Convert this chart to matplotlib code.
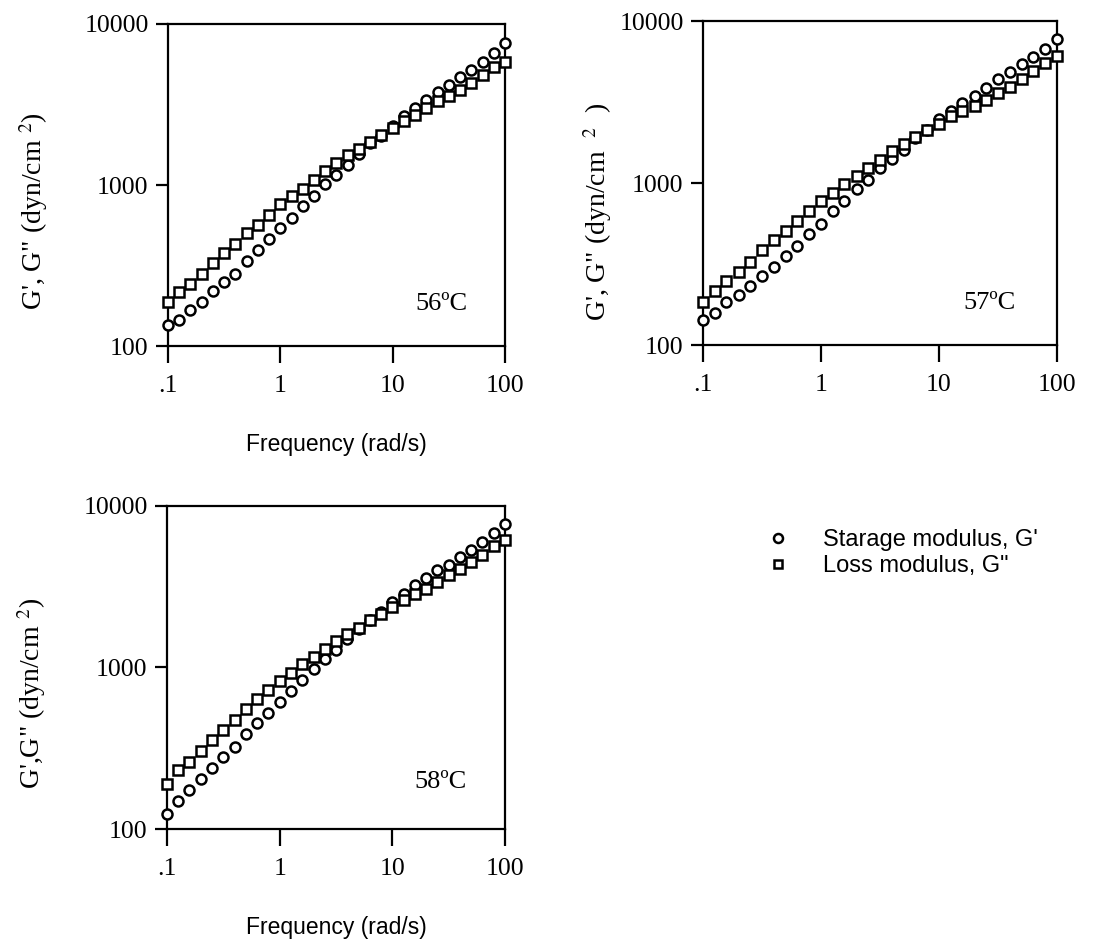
import matplotlib
matplotlib.use("Agg")
import matplotlib.pyplot as plt
from matplotlib.ticker import FixedLocator, FixedFormatter, NullLocator

plt.rcParams["font.family"] = ["Liberation Serif", "DejaVu Serif"]
plt.rcParams["mathtext.fontset"] = "stix"

# frequency (rad/s), 10 points per decade
freq = [0.1, 0.126, 0.158, 0.2, 0.251, 0.316, 0.398, 0.501, 0.631, 0.794,
        1.0, 1.26, 1.58, 2.0, 2.51, 3.16, 3.98, 5.01, 6.31, 7.94,
        10.0, 12.6, 15.8, 20.0, 25.1, 31.6, 39.8, 50.1, 63.1, 79.4, 100.0]

# storage modulus G' (circles) and loss modulus G" (squares), dyn/cm2
g1_56 = [136, 146, 167, 188, 219, 251, 282, 335, 394, 462, 538, 624, 745, 859,
         1014, 1159, 1337, 1556, 1820, 2023, 2312, 2667, 2999, 3381, 3802,
         4169, 4667, 5188, 5848, 6577, 7586]
g2_56 = [188, 216, 244, 282, 329, 379, 431, 504, 568, 655, 762, 851, 948, 1079,
         1216, 1368, 1542, 1671, 1862, 2051, 2254, 2483, 2729, 2999, 3304,
         3548, 3890, 4285, 4831, 5445, 5848]
g1_57 = [143, 158, 183, 204, 230, 265, 305, 356, 406, 486, 560, 668, 776, 912,
         1047, 1242, 1413, 1607, 1897, 2138, 2466, 2773, 3126, 3467, 3873,
         4355, 4831, 5395, 6026, 6745, 7762]
g2_57 = [185, 216, 247, 284, 327, 387, 446, 509, 579, 668, 771, 867, 986, 1109,
         1239, 1393, 1570, 1750, 1928, 2109, 2328, 2582, 2773, 3006, 3273,
         3606, 3926, 4416, 4909, 5521, 6081]
g1_58 = [123, 149, 174, 204, 240, 280, 323, 385, 451, 525, 614, 714, 836, 977,
         1122, 1291, 1496, 1742, 1982, 2208, 2547, 2844, 3228, 3589, 3999,
         4335, 4831, 5370, 5984, 6808, 7780]
g2_58 = [191, 232, 261, 305, 356, 409, 472, 550, 634, 724, 828, 927, 1047, 1161,
         1309, 1452, 1622, 1766, 1963, 2158, 2371, 2606, 2871, 3083, 3388,
         3724, 4093, 4508, 4955, 5636, 6138]

x_ticks = [0.1, 1, 10, 100]
x_ticklabels = [".1", "1", "10", "100"]
y_ticks = [100, 1000, 10000]
y_ticklabels = ["100", "1000", "10000"]

SANS = ["Liberation Sans Narrow", "Liberation Sans", "DejaVu Sans"]

fig = plt.figure(figsize=(10.97, 9.47), dpi=100)

panels = [
    # rect, G', G", temperature, ylabel, ylabel x/y (fig px), temp pos
    ([168 / 1097, 1 - 346 / 947, 337 / 1097, 322 / 947], g1_56, g2_56,
     "56ºC", "G', G\" (dyn/cm $^{2}$)", (34, 211), (0.81, 0.13), True),
    ([703 / 1097, 1 - 345 / 947, 354 / 1097, 324 / 947], g1_57, g2_57,
     "57ºC", "G', G\" (dyn/cm  $^{2}$  )", (598, 212), (0.81, 0.13), False),
    ([167 / 1097, 1 - 829 / 947, 338 / 1097, 323 / 947], g1_58, g2_58,
     "58ºC", "G',G\" (dyn/cm $^{2}$)", (32, 693), (0.81, 0.145), True),
]

for rect, g1, g2, temp, ylab, (lx, ly), tpos, xlab in panels:
    ax = fig.add_axes(rect)
    ax.set_xscale("log")
    ax.set_yscale("log")
    h1, = ax.plot(freq, g1, "o", ms=7.2, mfc="white", mec="black", mew=1.8,
                  clip_on=False, zorder=3)
    h2, = ax.plot(freq, g2, "s", ms=7.0, mfc="white", mec="black", mew=1.8,
                  clip_on=False, zorder=3)
    ax.set_xlim(0.1, 100)
    ax.set_ylim(100, 10000)
    ax.xaxis.set_major_locator(FixedLocator(x_ticks))
    ax.xaxis.set_major_formatter(FixedFormatter(x_ticklabels))
    ax.yaxis.set_major_locator(FixedLocator(y_ticks))
    ax.yaxis.set_major_formatter(FixedFormatter(y_ticklabels))
    ax.xaxis.set_minor_locator(NullLocator())
    ax.yaxis.set_minor_locator(NullLocator())
    ax.tick_params(axis="x", direction="out", length=12, width=1.6,
                   labelsize=18.5, pad=9)
    ax.tick_params(axis="y", direction="out", length=9, width=1.6,
                   labelsize=18.5, pad=5)
    for s in ax.spines.values():
        s.set_linewidth(1.6)
    ax.text(tpos[0], tpos[1], temp, transform=ax.transAxes, fontsize=19,
            ha="center", va="center")
    fig.text(lx / 1097, 1 - ly / 947, ylab, rotation=90, fontsize=20,
             ha="center", va="center")
    if xlab:
        ax.set_xlabel("Frequency (rad/s)", fontsize=16.5, family=SANS,
                      labelpad=26)

fig.legend([h1, h2], ["Starage modulus, G'", "Loss modulus, G\""],
           loc="upper left", bbox_to_anchor=(745 / 1097, 1 - 508 / 947),
           frameon=False, prop={"family": SANS, "size": 17},
           handlelength=1.0, handletextpad=1.4, labelspacing=0.15,
           markerscale=0.9)

fig.savefig("out.png", dpi=100)
